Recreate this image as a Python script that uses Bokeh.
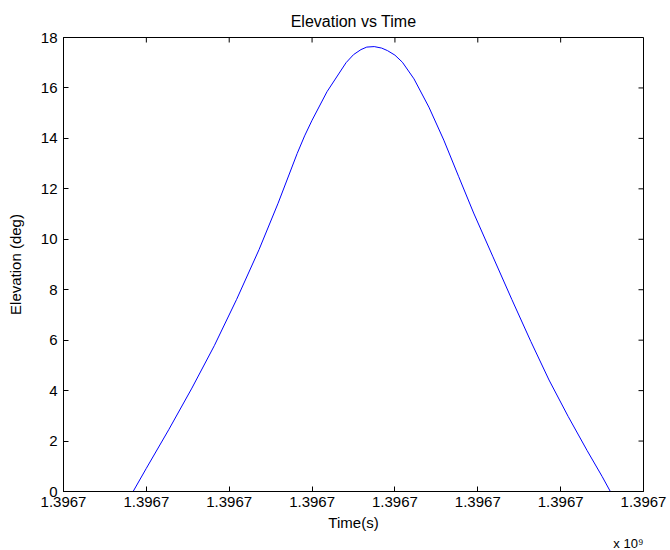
import math
from bokeh.plotting import figure
from bokeh.models import Range1d, FixedTicker, Title
from bokeh.embed import file_html
from bokeh.resources import INLINE

# Time in seconds (epoch) and elevation in degrees
time_s = [1396716168, 1396716200, 1396716254, 1396716310, 1396716364, 1396716418,
          1396716472, 1396716518, 1396716564, 1396716582, 1396716600, 1396716636,
          1396716682, 1396716700, 1396716718, 1396716732, 1396716750, 1396716768,
          1396716782, 1396716800, 1396716818, 1396716846, 1396716882, 1396716918,
          1396716954, 1396716990, 1396717036, 1396717082, 1396717128, 1396717172,
          1396717218, 1396717264, 1396717300, 1396717320]
elevation_deg = [0.0, 0.92, 2.45, 4.10, 5.78, 7.62,
                 9.59, 11.43, 13.40, 14.10, 14.72, 15.85,
                 17.00, 17.32, 17.52, 17.62, 17.64, 17.58,
                 17.48, 17.30, 17.02, 16.36, 15.24, 13.93,
                 12.48, 11.04, 9.33, 7.62, 5.95, 4.42,
                 2.98, 1.62, 0.60, 0.0]

x_ticks = [1396716000, 1396716200, 1396716400, 1396716600,
           1396716800, 1396717000, 1396717200, 1396717400]
x_tick_labels = ["1.3967", "1.3967", "1.3967", "1.3967",
                 "1.3967", "1.3967", "1.3967", "1.3967"]
x_multiplier = "x 10\u2079"
y_ticks = [0, 2, 4, 6, 8, 10, 12, 14, 16, 18]

FONT = "Liberation Sans"

p = figure(width=670, height=550, output_backend="svg", toolbar_location=None,
           x_range=Range1d(x_ticks[0], x_ticks[-1]), y_range=Range1d(y_ticks[0], y_ticks[-1]),
           min_border_left=63, min_border_right=27, min_border_top=37, min_border_bottom=57,
           title="Elevation vs Time")
p.title.align = "center"
p.title.text_font = FONT
p.title.text_font_size = "16px"
p.title.text_font_style = "normal"
p.title.text_color = "black"
p.title.standoff = 15
p.background_fill_color = "white"
p.border_fill_color = "white"
p.outline_line_color = "black"
p.grid.visible = False

p.line(time_s, elevation_deg, line_color="#0000ff", line_width=1)

xa = p.xaxis[0]
xa.ticker = FixedTicker(ticks=x_ticks)
xa.major_label_overrides = {t: l for t, l in zip(x_ticks, x_tick_labels)}
xa.axis_label = "Time(s)"
ya = p.yaxis[0]
ya.ticker = FixedTicker(ticks=y_ticks)
ya.axis_label = "Elevation (deg)"

for ax in (xa, ya):
    ax.major_tick_in = 5
    ax.major_tick_out = 0
    ax.minor_tick_in = 0
    ax.minor_tick_out = 0
    ax.axis_line_color = "black"
    ax.major_tick_line_color = "black"
    ax.major_label_text_font = FONT
    ax.major_label_text_font_size = "15px"
    ax.major_label_text_color = "black"
    ax.axis_label_text_font = FONT
    ax.axis_label_text_font_size = "15px"
    ax.axis_label_text_font_style = "normal"
    ax.axis_label_text_color = "black"
xa.major_label_standoff = 5
xa.axis_label_standoff = 4
ya.major_label_standoff = 6
ya.axis_label_standoff = 14

# mirrored inward ticks on the top and right edges of the box
p.ray(x=x_ticks, y=[y_ticks[-1]] * len(x_ticks), length=5, length_units="screen",
      angle=-math.pi / 2, line_color="black", line_width=1)
p.ray(x=[x_ticks[-1]] * len(y_ticks), y=y_ticks, length=5, length_units="screen",
      angle=math.pi, line_color="black", line_width=1)

p.add_layout(Title(text=x_multiplier, align="right", text_font=FONT,
                   text_font_size="13px", text_font_style="normal",
                   text_color="black", standoff=0, offset=0), "below")

open("out.html", "w").write(file_html(p, INLINE))
